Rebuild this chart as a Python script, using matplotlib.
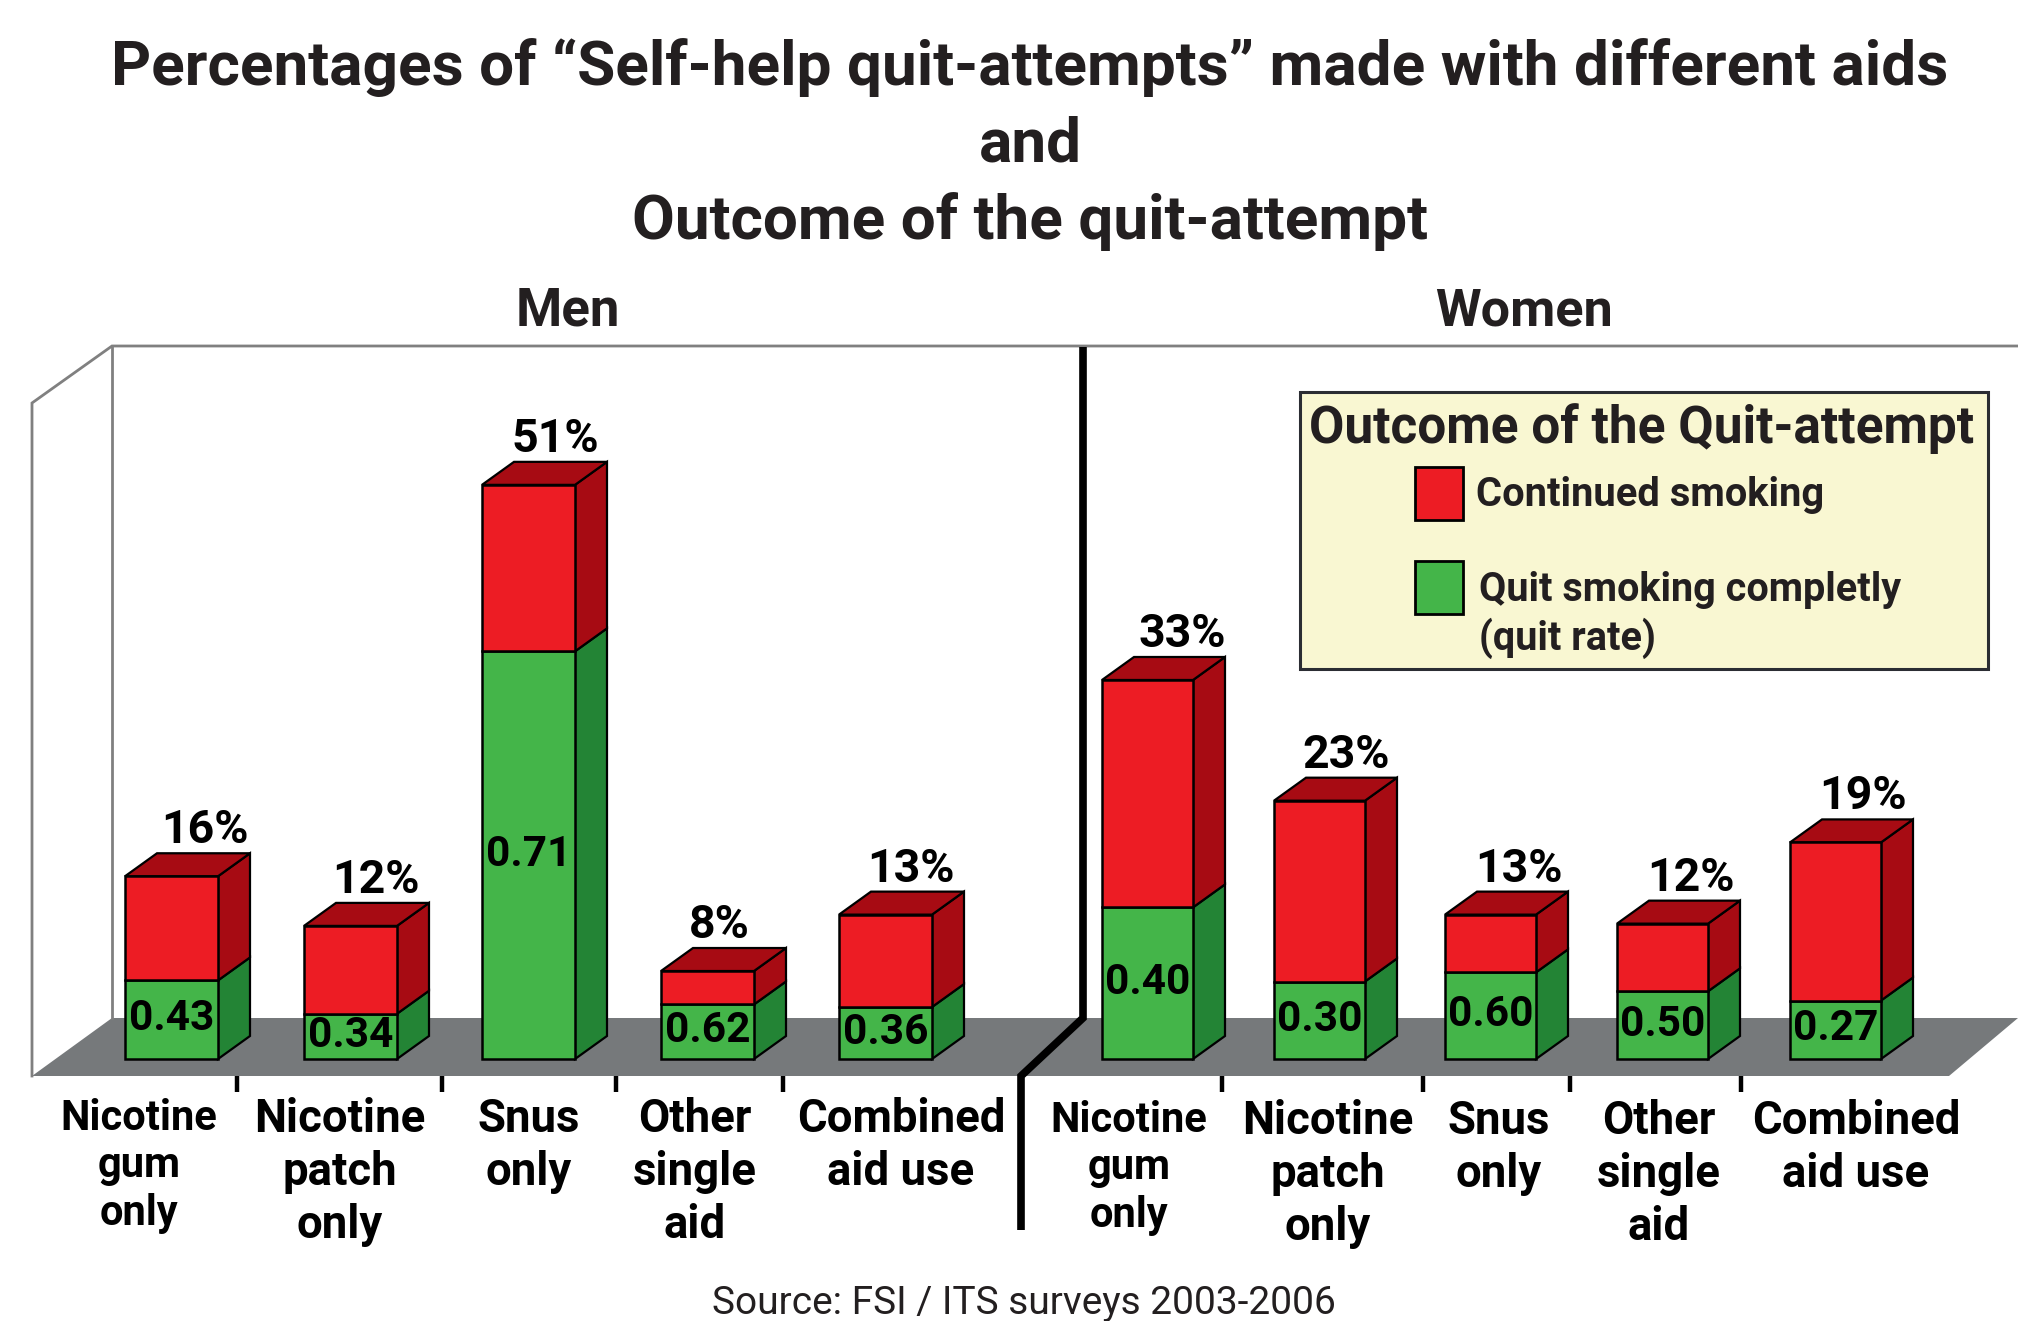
import matplotlib
matplotlib.use("Agg")
import matplotlib.pyplot as plt
from matplotlib.patches import Polygon, Rectangle

# ---- data ----
categories_men = [["Nicotine", "gum", "only"], ["Nicotine", "patch", "only"], ["Snus", "only"],
                  ["Other", "single", "aid"], ["Combined", "aid use"]]
categories_women = [["Nicotine", "gum", "only"], ["Nicotine", "patch", "only"], ["Snus", "only"],
                    ["Other", "single", "aid"], ["Combined", "aid use"]]
total_men = [16.2, 11.8, 50.9, 7.8, 12.8]
total_women = [33.6, 22.9, 12.8, 12.0, 19.2]
labels_men = ["16%", "12%", "51%", "8%", "13%"]
labels_women = ["33%", "23%", "13%", "12%", "19%"]
rate_men = [0.43, 0.34, 0.71, 0.62, 0.36]
rate_women = [0.40, 0.30, 0.60, 0.50, 0.27]

# ---- style / layout ----
W, H = 2018, 1321
BASE = 1059
PXPER = 11.28
DX, DY = 32, 23
left_men = [125, 304, 482, 661, 839]
left_women = [1102, 1274, 1445, 1617, 1790]
lab_dx_men = [34, 26, 27, 12, 26]
lab_dx_women = [34, 26, 28, 28, 27]
cx_men = [139, 340, 529, 695, 901]
cx_women = [1129, 1328, 1499, 1659, 1856]
ticks_men = [237, 442, 616, 783]
ticks_women = [1222, 1423, 1570, 1741]
RED, DRED, GREEN, DGREEN = "#ed1c24", "#a70b13", "#44b549", "#238435"
FLOOR = "#76797b"
DARK = "#231f20"
HEAD = ["Roboto", "DejaVu Sans"]

fig = plt.figure(figsize=(W / 100, H / 100), dpi=100, facecolor="white")
px = fig.add_axes([0, 0, 1, 1], zorder=1)
px.set_xlim(0, W); px.set_ylim(H, 0); px.axis("off")
ax = fig.add_axes([0, 0, 1, 1], zorder=2)
ax.set_xlim(0, W); ax.set_ylim(-(H - BASE) / PXPER, BASE / PXPER); ax.axis("off")
ax.patch.set_alpha(0)

# walls and floor
px.add_patch(Polygon([(32, 1076), (112, 1018), (W, 1018), (1949, 1076)], fc=FLOOR, ec="none"))
px.plot([32, 32, 112, W], [1076, 403, 346, 346], color="#808080", lw=2, solid_joinstyle="miter")
px.plot([112, 112], [346, 1018], color="#808080", lw=2)
px.plot([1083, 1083, 1021, 1021], [347, 1018, 1076, 1230], color="black", lw=5.5,
        solid_joinstyle="miter", solid_capstyle="butt")
for t in ticks_men + ticks_women:
    px.plot([t, t], [1076, 1092], color="black", lw=3.2, solid_capstyle="butt")


def draw_group(lefts, totals, rates, labels, dxs, bar_w):
    for x, tot, r, lab, ldx in zip(lefts, totals, rates, labels, dxs):
        g = tot * r
        dy = DY / PXPER
        x1 = x + bar_w
        ax.bar(x, g, bar_w, align="edge", color=GREEN, ec="black", lw=1.8, zorder=4)
        ax.bar(x, tot - g, bar_w, bottom=g, align="edge", color=RED, ec="black", lw=1.8, zorder=4)
        ax.add_patch(Polygon([(x1, 0), (x1 + DX, dy), (x1 + DX, g + dy), (x1, g)],
                             fc=DGREEN, ec="black", lw=1.6, zorder=3))
        ax.add_patch(Polygon([(x1, g), (x1 + DX, g + dy), (x1 + DX, tot + dy), (x1, tot)],
                             fc=DRED, ec="black", lw=1.6, zorder=3))
        ax.add_patch(Polygon([(x, tot), (x + DX, tot + dy), (x1 + DX, tot + dy), (x1, tot)],
                             fc=DRED, ec="black", lw=1.6, zorder=3))
        ax.text(x + 46 + ldx, tot + 46 / PXPER, lab, ha="center", va="center",
                family=HEAD, weight="bold", fontsize=33.5, color="black", zorder=6)
        ax.text(x + bar_w / 2, g / 2 + 1 / PXPER, f"{r:.2f}", ha="center", va="center",
                family=HEAD, weight="bold", fontsize=30.5, color="black", zorder=6)


draw_group(left_men, total_men, rate_men, labels_men, lab_dx_men, 93)
draw_group(left_women, total_women, rate_women, labels_women, lab_dx_women, 91)


def draw_cats(cats, cxs, yoff):
    for lines, cx in zip(cats, cxs):
        gum = "gum" in lines
        y0 = 1118 + yoff if gum else 1119 + yoff
        step = 48 if gum else 53
        fs = 30 if gum else 32.8
        for i, s in enumerate(lines):
            px.text(cx, y0 + i * step, s, ha="center", va="center",
                    family=HEAD, weight="bold", fontsize=fs, color="black")


draw_cats(categories_men, cx_men, 0)
draw_cats(categories_women, cx_women, 2)

# titles
for s, y in [("Percentages of “Self-help quit-attempts” made with different aids", 68),
             ("and", 145), ("Outcome of the quit-attempt", 222)]:
    px.text(1030, y, s, ha="center", va="center", family=HEAD, weight="bold", fontsize=44.7, color=DARK)
px.text(568, 311, "Men", ha="center", va="center", family=HEAD, weight="bold", fontsize=38, color=DARK)
px.text(1524, 311, "Women", ha="center", va="center", family=HEAD, weight="bold", fontsize=37.5, color=DARK)

# legend
px.add_patch(Rectangle((1300, 392), 688, 277, fc="#f9f7d2", ec="#2b2d33", lw=2.2, zorder=3))
px.text(1642, 429, "Outcome of the Quit-attempt", ha="center", va="center", family=HEAD,
        weight="bold", fontsize=37, color=DARK, zorder=4)
px.add_patch(Rectangle((1415, 467), 48, 53, fc=RED, ec="black", lw=2, zorder=4))
px.add_patch(Rectangle((1415, 561), 48, 53, fc=GREEN, ec="black", lw=2, zorder=4))
px.text(1476, 495, "Continued smoking", ha="left", va="center", family=HEAD, weight="bold",
        fontsize=28.7, color=DARK, zorder=4)
px.text(1479, 590, "Quit smoking completly", ha="left", va="center", family=HEAD, weight="bold",
        fontsize=28.5, color=DARK, zorder=4)
px.text(1479, 638, "(quit rate)", ha="left", va="center", family=HEAD, weight="bold",
        fontsize=28.5, color=DARK, zorder=4)

px.text(1024, 1303, "Source: FSI / ITS surveys 2003-2006", ha="center", va="center", family=HEAD,
        fontsize=28, color=DARK)

fig.savefig("out.png", dpi=100, facecolor="white")
